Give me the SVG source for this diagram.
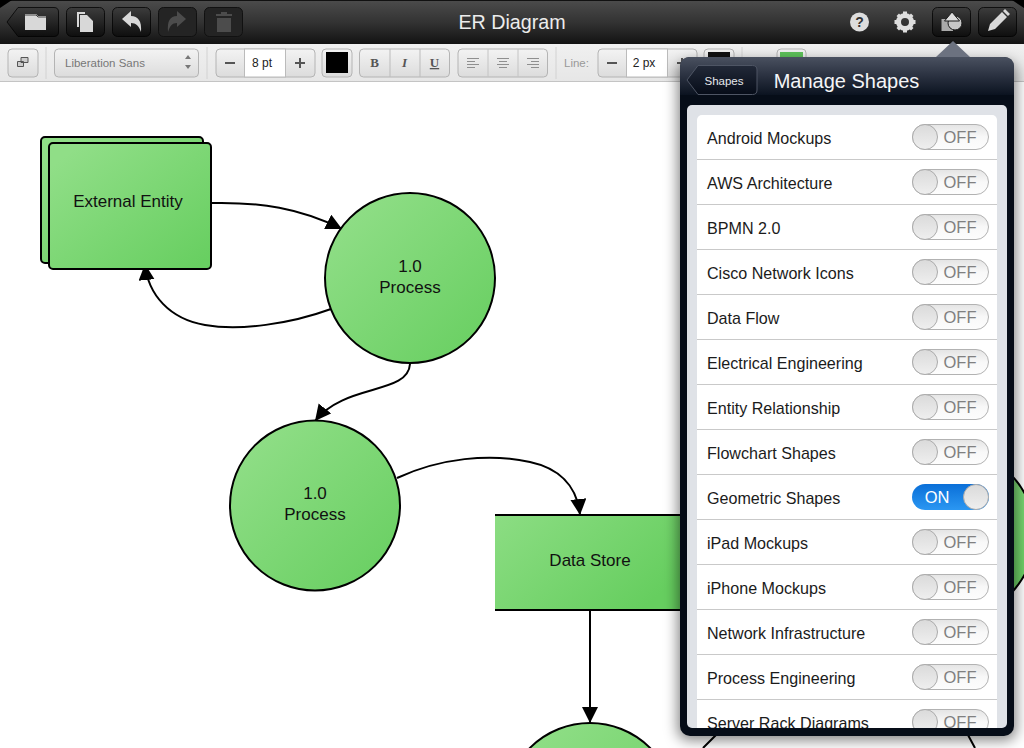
<svg xmlns="http://www.w3.org/2000/svg" width="1024" height="748" viewBox="0 0 1024 748">
<defs>
<linearGradient id="green" x1="0" y1="0" x2="1" y2="1"><stop offset="0.1" stop-color="#90de87"/><stop offset="0.95" stop-color="#68cf61"/></linearGradient>
<linearGradient id="greenH" x1="0" y1="0" x2="1" y2="0.55"><stop offset="0" stop-color="#8cdd83"/><stop offset="1" stop-color="#66ce5f"/></linearGradient>
<linearGradient id="topbar" x1="0" y1="0" x2="0" y2="1"><stop offset="0" stop-color="#4c4c4c"/><stop offset="0.5" stop-color="#333"/><stop offset="1" stop-color="#121212"/></linearGradient>
<linearGradient id="subbar" x1="0" y1="0" x2="0" y2="1"><stop offset="0" stop-color="#f0f0f0"/><stop offset="1" stop-color="#e6e6e6"/></linearGradient>
<linearGradient id="darkbtn" x1="0" y1="0" x2="0" y2="1"><stop offset="0" stop-color="#3c3c3c"/><stop offset="1" stop-color="#0e0e0e"/></linearGradient>
<linearGradient id="lightbtn" x1="0" y1="0" x2="0" y2="1"><stop offset="0" stop-color="#f3f3f3"/><stop offset="1" stop-color="#dcdcdc"/></linearGradient>
<linearGradient id="head" x1="0" y1="0" x2="0" y2="1"><stop offset="0" stop-color="#4a5160"/><stop offset="0.5" stop-color="#2a3140"/><stop offset="1" stop-color="#0b1320"/></linearGradient>
<linearGradient id="backbtn" x1="0" y1="0" x2="0" y2="1"><stop offset="0" stop-color="#222938"/><stop offset="1" stop-color="#060c18"/></linearGradient>
<linearGradient id="blue" x1="0" y1="0" x2="0" y2="1"><stop offset="0" stop-color="#0a6fd8"/><stop offset="1" stop-color="#2b97f2"/></linearGradient>
<linearGradient id="offbg" x1="0" y1="0" x2="0" y2="1"><stop offset="0" stop-color="#e4e4e4"/><stop offset="0.5" stop-color="#f8f8f8"/><stop offset="1" stop-color="#fdfdfd"/></linearGradient>
<linearGradient id="knob" x1="0" y1="0" x2="0" y2="1"><stop offset="0" stop-color="#dadada"/><stop offset="1" stop-color="#efefef"/></linearGradient>
<filter id="blur" x="-20%" y="-20%" width="140%" height="140%"><feGaussianBlur stdDeviation="7"/></filter>
<marker id="arrow" markerUnits="userSpaceOnUse" markerWidth="20" markerHeight="18" refX="16" refY="8" orient="auto"><path d="M0 0L16 8L0 16z" fill="#000"/></marker>
<clipPath id="listclip"><rect x="697" y="115" width="300" height="613"/></clipPath>
<g id="toggleOff">
<rect x="0.5" y="0.5" width="76" height="25" rx="12.5" fill="url(#offbg)" stroke="#b2b2b2"/>
<circle cx="13" cy="13" r="12.5" fill="url(#knob)" stroke="#ababab"/>
<text x="48" y="19.200" class="off">OFF</text>
</g>
</defs>
<style>
text{font-family:"Liberation Sans",Arial,sans-serif}
.node{fill:url(#green);stroke:#000;stroke-width:2}
.lbl{font-size:17px;fill:#111;text-anchor:middle}
.conn{fill:none;stroke:#000;stroke-width:2;marker-end:url(#arrow)}
.dk{fill:url(#darkbtn);stroke:#000;stroke-opacity:.75}
.lt{fill:url(#lightbtn);stroke:#b4b4b4}
.sep{stroke:#d2d2d2;stroke-width:1}
.ico{fill:#d8d8d8}
.dim{fill:#4c4c4c}
.gy{fill:#555}
.row{font-size:16.100px;fill:#1b1b1b}
.off{font-size:16.500px;fill:#808080;text-anchor:middle}
.rule{stroke:#c9c9c9;stroke-width:1}
.f{font-size:12px;fill:#222;text-anchor:middle}
.al{stroke:#8f8f8f;stroke-width:1;fill:none}
.serif{font-family:"Liberation Serif",serif;font-size:13px;font-weight:bold;fill:#555;text-anchor:middle}
</style>

<rect width="1024" height="748" fill="#fff"/>

<g id="connectors">
<path class="conn" d="M212 203C260 202 300 208 342 229"/>
<path class="conn" d="M331 309C290 324 240 331 205 325C170 319 148 295 145 264"/>
<path class="conn" d="M410 364C408 395 345 383 315 421"/>
<path class="conn" d="M397 478C440 458 490 453 530 462C558 468 577 485 580 515"/>
<path class="conn" d="M590 610L590 723"/>
<path d="M716 735L703 748M968 735L975 748" fill="none" stroke="#000" stroke-width="2"/>
</g>

<g id="external-entity">
<rect class="node" x="41" y="137" width="162" height="126" rx="4"/>
<rect class="node" x="49" y="143" width="162" height="126" rx="4"/>
<text class="lbl" x="128" y="206.500">External Entity</text>
</g>
<g id="process-1">
<circle class="node" cx="410" cy="278" r="85"/>
<text class="lbl" x="410" y="272">1.0</text>
<text class="lbl" x="410" y="293">Process</text>
</g>
<g id="process-2">
<circle class="node" cx="315" cy="505.500" r="85"/>
<text class="lbl" x="315" y="499">1.0</text>
<text class="lbl" x="315" y="520">Process</text>
</g>
<g id="data-store">
<rect x="495" y="515" width="195" height="95" fill="url(#greenH)"/>
<path d="M495 515H690M495 610H690" stroke="#000" stroke-width="2" fill="none"/>
<text class="lbl" x="590" y="566">Data Store</text>
</g>
<g id="process-3"><circle class="node" cx="590" cy="808" r="85"/></g>
<g id="process-4"><circle class="node" cx="950" cy="534" r="85"/></g>

<g id="toolbar">
<rect width="1024" height="44" fill="url(#topbar)"/>
<rect width="1024" height="1" fill="#111"/>
<path d="M0 0H12L0 8zM1024 0H1012L1024 8z" fill="#000"/>
<rect y="44" width="1024" height="38" fill="url(#subbar)"/>
<rect y="81" width="1024" height="1" fill="#c4c4c4"/>

<path class="dk" d="M7 22L18 7.500H54Q58.500 7.500 58.500 12V32Q58.500 36.500 54 36.500H18z"/>
<path class="ico" d="M25 14H36L38 16H46V30H25z"/>
<path d="M25 15H36L38 17H46" fill="none" stroke="#444" stroke-width="1"/>
<rect class="dk" x="66.500" y="7.500" width="38" height="29" rx="5"/>
<path class="ico" d="M77 12H85V14H79V27H77z M80 15H87L93 21V32H80z"/>
<rect class="dk" x="112.500" y="7.500" width="38" height="29" rx="5"/>
<path class="ico" d="M122 19L131 11V16C138 16 142 21 141 32C139 26 136 23 131 23V27z"/>
<rect x="158.500" y="7.500" width="38" height="29" rx="5" fill="#242424" stroke="#111"/>
<path class="dim" d="M186 19L177 11V16C170 16 167 21 168 32C170 26 172 23 177 23V27z"/>
<rect x="204.500" y="7.500" width="38" height="29" rx="5" fill="#242424" stroke="#111"/>
<path class="dim" d="M216 14H221V12H227V14H232V16H216zM217 18H231V32H217z"/>

<text x="512" y="29" font-size="19.700" fill="#ececec" text-anchor="middle">ER Diagram</text>

<circle cx="859.500" cy="22" r="9.500" fill="#ddd"/>
<text x="859.500" y="27" font-size="14" font-weight="bold" fill="#333" text-anchor="middle">?</text>
<g transform="translate(905 22)">
<circle r="6.500" fill="none" stroke="#ddd" stroke-width="5"/>
<path d="M-2 -10.500H2V-7H-2zM-2 7H2V10.500H-2zM-10.500 -2H-7V2H-10.500zM7 -2H10.500V2H7zM-8.500 -6L-6 -8.500L-3.500 -6L-6 -3.500zM8.500 6L6 8.500L3.500 6L6 3.500zM8.500 -6L6 -8.500L3.500 -6L6 -3.500zM-8.500 6L-6 8.500L-3.500 6L-6 3.500z" fill="#ddd"/>
</g>
<rect class="dk" x="932.500" y="7.500" width="38" height="29" rx="5"/>
<path fill="#aaa" d="M941.500 19H953V31H941.500z"/>
<circle cx="955" cy="23" r="7" fill="#c8c8c8" stroke="#1b1b1b"/>
<path d="M952 12L959.500 21H944.500z" fill="#ddd" stroke="#1b1b1b"/>
<rect class="dk" x="978.500" y="7.500" width="38" height="29" rx="5"/>
<path class="ico" d="M988 31L990 24L1002 12L1007 17L995 29zM1003 11L1005 9L1010 14L1008 16z"/>

<rect class="lt" x="8" y="49" width="30" height="28" rx="4"/>
<path d="M17.500 61.500H23.500V66.500H17.500zM21 57.500H28V62.500H21z" fill="#ccc" stroke="#555"/>
<path class="sep" d="M46 47V79M207 47V79M556 47V79M742 47V79"/>

<rect class="lt" x="54.500" y="49" width="144" height="28" rx="4"/>
<text x="65" y="67" font-size="11.500" fill="#777">Liberation Sans</text>
<path d="M188 55L191 59H185zM188 69L191 65H185z" fill="#777"/>

<rect class="lt" x="216" y="49" width="99" height="28" rx="4"/>
<rect x="244.500" y="49" width="41" height="28" fill="#fff" stroke="#bbb"/>
<text x="262" y="67" class="f">8 pt</text>
<path class="gy" d="M225 62H235V64H225zM295 62H305V64H295zM299 58H301V68H299z"/>

<rect class="lt" x="322" y="49" width="30" height="28" rx="4"/>
<rect x="326" y="52" width="22" height="21" fill="#000"/>

<rect class="lt" x="359.500" y="49" width="90" height="28" rx="4"/>
<path d="M390 49V77M420 49V77" stroke="#bbb" stroke-width="1"/>
<text x="374.500" y="67" class="serif">B</text>
<text x="404.500" y="67" class="serif" font-style="italic">I</text>
<text x="434.500" y="67" class="serif" text-decoration="underline">U</text>

<rect class="lt" x="458" y="49" width="89.500" height="28" rx="4"/>
<path d="M488 49V77M518 49V77" stroke="#c4c4c4" stroke-width="1"/>
<path class="al" d="M467 58.500H479M467 61.500H475M467 64.500H479M467 67.500H475M497 58.500H509M499 61.500H507M497 64.500H509M499 67.500H507M527 58.500H539M531 61.500H539M527 64.500H539M531 67.500H539"/>

<text x="564" y="67" font-size="11.500" fill="#999">Line:</text>
<rect class="lt" x="598" y="49" width="99" height="28" rx="4"/>
<rect x="626.500" y="49" width="41" height="28" fill="#fff" stroke="#bbb"/>
<text x="644" y="67" class="f">2 px</text>
<path class="gy" d="M607 62H617V64H607zM677 62H687V64H677zM681 58H683V68H681z"/>

<rect class="lt" x="704" y="49" width="30" height="28" rx="4"/>
<rect x="708" y="52" width="22" height="21" fill="#111"/>
<rect class="lt" x="777" y="49" width="29" height="28" rx="4"/>
<rect x="780" y="52" width="23" height="21" fill="#5ec25a"/>
</g>

<g id="panel">
<rect x="678" y="62" width="338" height="678" rx="10" fill="#000" fill-opacity=".5" filter="url(#blur)"/>
<path d="M936 57L953 41L970 57z" fill="#6c7280"/>
<rect x="680" y="57" width="334" height="679" rx="10" fill="#060d18"/>
<path d="M680 95V67Q680 57 690 57H1004Q1014 57 1014 67V95z" fill="url(#head)"/>
<path d="M687 80L698 65.500H752.500Q757 65.500 757 70V90Q757 94.500 752.500 94.500H698z" fill="url(#backbtn)" stroke="#4e5564"/>
<text x="724" y="84.500" font-size="11.500" fill="#e6e8ec" text-anchor="middle">Shapes</text>
<text x="846.500" y="87.500" font-size="20" fill="#f4f5f7" text-anchor="middle">Manage Shapes</text>
<rect x="687" y="105" width="320" height="623" rx="5" fill="#dfe2e7"/>
<g clip-path="url(#listclip)">
<rect x="697" y="115" width="300" height="630" rx="5" fill="#fff"/>
<path class="rule" d="M697 159.500H997M697 204.500H997M697 249.500H997M697 294.500H997M697 339.500H997M697 384.500H997M697 429.500H997M697 474.500H997M697 519.500H997M697 564.500H997M697 609.500H997M697 654.500H997M697 699.500H997"/>
<text class="row" x="707" y="143.500">Android Mockups</text>
<text class="row" x="707" y="188.500">AWS Architecture</text>
<text class="row" x="707" y="233.500">BPMN 2.0</text>
<text class="row" x="707" y="278.500">Cisco Network Icons</text>
<text class="row" x="707" y="323.500">Data Flow</text>
<text class="row" x="707" y="368.500">Electrical Engineering</text>
<text class="row" x="707" y="413.500">Entity Relationship</text>
<text class="row" x="707" y="458.500">Flowchart Shapes</text>
<text class="row" x="707" y="503.500">Geometric Shapes</text>
<text class="row" x="707" y="548.500">iPad Mockups</text>
<text class="row" x="707" y="593.500">iPhone Mockups</text>
<text class="row" x="707" y="638.500">Network Infrastructure</text>
<text class="row" x="707" y="683.500">Process Engineering</text>
<text class="row" x="707" y="728.500">Server Rack Diagrams</text>
<use href="#toggleOff" x="912" y="124"/>
<use href="#toggleOff" x="912" y="169"/>
<use href="#toggleOff" x="912" y="214"/>
<use href="#toggleOff" x="912" y="259"/>
<use href="#toggleOff" x="912" y="304"/>
<use href="#toggleOff" x="912" y="349"/>
<use href="#toggleOff" x="912" y="394"/>
<use href="#toggleOff" x="912" y="439"/>
<rect x="912" y="484" width="77" height="26" rx="13" fill="url(#blue)"/>
<circle cx="976" cy="497" r="12.500" fill="url(#knob)" stroke="#ababab"/>
<text x="937" y="503" font-size="16.500" fill="#fff" text-anchor="middle">ON</text>
<use href="#toggleOff" x="912" y="529"/>
<use href="#toggleOff" x="912" y="574"/>
<use href="#toggleOff" x="912" y="619"/>
<use href="#toggleOff" x="912" y="664"/>
<use href="#toggleOff" x="912" y="709"/>
</g>
</g>
</svg>
